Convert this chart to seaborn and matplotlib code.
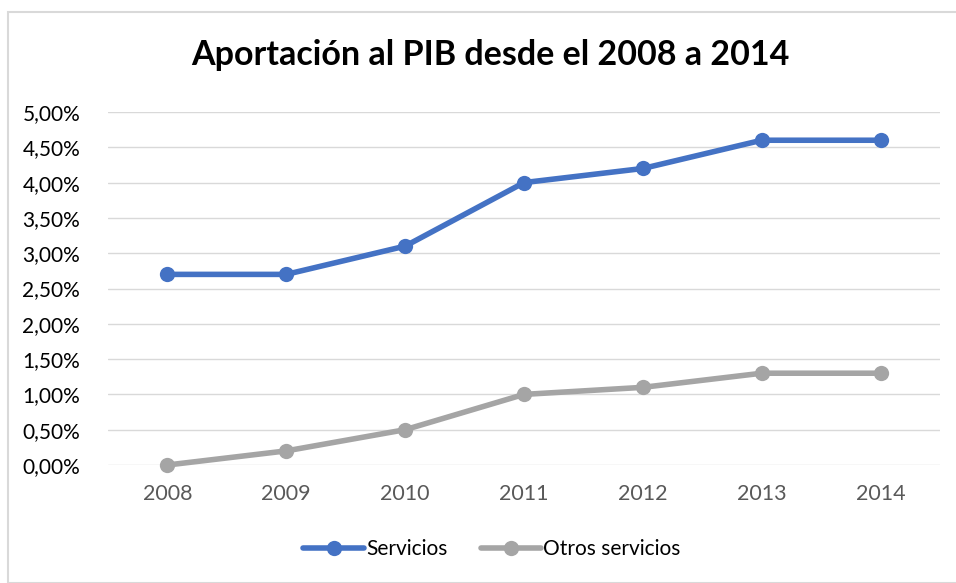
import matplotlib
matplotlib.use("Agg")
import matplotlib.pyplot as plt
import seaborn as sns
import pandas as pd
from matplotlib.patches import Rectangle
from matplotlib.lines import Line2D

years = ["2008", "2009", "2010", "2011", "2012", "2013", "2014"]
servicios = [2.7, 2.7, 3.1, 4.0, 4.2, 4.6, 4.6]
otros = [0.0, 0.2, 0.5, 1.0, 1.1, 1.3, 1.3]
series_names = ["Servicios", "Otros servicios"]
colors = ["#4472C4", "#A5A5A5"]

df = pd.DataFrame({
    "year": years * 2,
    "value": servicios + otros,
    "serie": [series_names[0]] * len(years) + [series_names[1]] * len(years),
})

sns.set_theme(style="white")
plt.rcParams['font.family'] = ['Lato', 'DejaVu Sans']

fig = plt.figure(figsize=(9.56, 5.83), dpi=100)
ax = fig.add_axes([108/956, 1-465/583, (940-108)/956, (465-112)/583])

sns.lineplot(data=df, x="year", y="value", hue="serie", palette=colors,
             marker="o", markersize=11, linewidth=4, markeredgewidth=0,
             ax=ax, legend=False, sort=False)
for ln in ax.lines:
    ln.set_clip_on(False)

ax.set_xlim(-0.5, 6.5)
ax.set_ylim(0, 5.0)
yt = [i * 0.5 for i in range(11)]
ax.set_yticks(yt)
ax.set_yticklabels([f"{v:.2f}".replace(".", ",") + "%" for v in yt], fontsize=15, color="#000000")
ax.tick_params(axis="x", labelsize=15.5, labelcolor="#595959", pad=14, length=0)
ax.tick_params(axis="y", length=0, pad=20)
ax.set_xlabel("")
ax.set_ylabel("")
ax.grid(axis="y", color="#D9D9D9", linewidth=1)
ax.set_axisbelow(True)
for s in ax.spines.values():
    s.set_visible(False)

fig.text(490/956, 1-55/583, "Aportación al PIB desde el 2008 a 2014",
         ha="center", va="center", fontsize=24.5, fontweight="bold", color="#000000")

handles = [Line2D([], [], color=c, linewidth=4, marker="o", markersize=11, markeredgewidth=0) for c in colors]
fig.legend(handles, series_names, loc="center", bbox_to_anchor=(492/956, 1-549/583),
           ncol=2, frameon=False, fontsize=15, handlelength=2.9, columnspacing=1.6,
           handletextpad=0.1, labelcolor="#000000")

fig.patches.append(Rectangle((8/956, 0), 1.0, 1-12/583, transform=fig.transFigure,
                             fill=False, edgecolor="#D9D9D9", linewidth=1.5))

fig.savefig("out.png", dpi=100)
